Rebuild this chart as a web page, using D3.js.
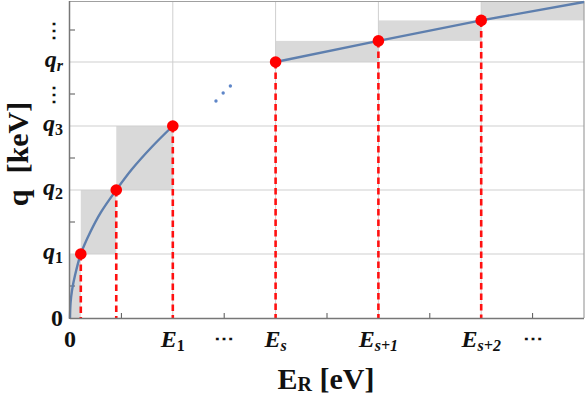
<!DOCTYPE html>
<html><head><meta charset="utf-8">
<script src="https://cdn.jsdelivr.net/npm/d3@7"></script>
<style>body{margin:0;background:#fff}svg{display:block}svg text{font-family:"Liberation Serif",serif !important}</style>
</head><body><svg id="c" width="586" height="396"></svg>
<script>
// ---- data ----
const xTicksMajor = [2, 4, 6, 8];
const xTickLabels = [["E","1"],["E","s"],["E","s+1"],["E","s+2"]];
const xDotsTicks = [3, 9];
const yTicksMajor = [2, 4, 6, 8];
const yTickLabels = [["q","1"],["q","2"],["q","3"],["q","r"]];
const yDotsTicks = [7, 9];
const minorX = [1, 3, 5, 7, 9];
const minorY = [1, 3, 5, 7, 9];
// lower curve segment
const curveLowE = [0, 0.01, 0.04, 0.1, 0.21, 0.4, 0.6, 0.9, 1.2, 1.6, 2.0];
const curveLowQ = [0, 0.45, 0.87, 1.35, 2.0, 2.7, 3.3, 4.0, 4.64, 5.36, 6.0];
// upper curve segment
const curveHighE = [4, 6, 8, 10];
const curveHighQ = [8, 8.66, 9.3, 9.875];
// marked points
const ptE = [0.21, 0.9, 2, 4, 6, 8];
const ptQ = [2, 4, 6, 8, 8.66, 9.3];
// shaded boxes
const boxE0 = [0, 0.21, 0.9, 4, 6, 8];
const boxE1 = [0.21, 0.9, 2, 6, 8, 10];
const boxQ0 = [0, 2, 4, 8, 8.66, 9.3];
const boxQ1 = [2, 4, 6, 8.66, 9.3, 9.875];
// ellipsis dots on the curve gap
const gapE = [2.84, 2.98, 3.12];
const gapQ = [6.78, 7.03, 7.25];

const svg = d3.select("#c");
const x = d3.scaleLinear().domain([0, 10]).range([70, 584]);
const y = d3.scaleLinear().domain([0, 9.875]).range([318, 2]);

svg.append("g").selectAll("rect").data(boxE0).join("rect")
  .attr("x", (d,i)=>x(boxE0[i])).attr("width",(d,i)=>x(boxE1[i])-x(boxE0[i]))
  .attr("y",(d,i)=>y(boxQ1[i])).attr("height",(d,i)=>y(boxQ0[i])-y(boxQ1[i]))
  .attr("fill","#d9d9d9");

svg.append("g").selectAll("line").data(xTicksMajor).join("line")
  .attr("x1",d=>x(d)).attr("x2",d=>x(d)).attr("y1",y(0)).attr("y2",2)
  .attr("stroke","#cfcfcf").attr("stroke-width",1);
svg.append("g").selectAll("line").data(yTicksMajor).join("line")
  .attr("y1",d=>y(d)).attr("y2",d=>y(d)).attr("x1",70).attr("x2",584)
  .attr("stroke","#cfcfcf").attr("stroke-width",1.2);

svg.append("line").attr("x1",70).attr("x2",584).attr("y1",1.5).attr("y2",1.5).attr("stroke","#a0a0a0").attr("stroke-width",1.2);
svg.append("line").attr("x1",584).attr("x2",584).attr("y1",1).attr("y2",318).attr("stroke","#a0a0a0").attr("stroke-width",1.2);

svg.append("g").selectAll("line").data(minorX).join("line")
  .attr("x1",d=>x(d)).attr("x2",d=>x(d)).attr("y1",y(0)).attr("y2",y(0)-5)
  .attr("stroke","#555").attr("stroke-width",1);
svg.append("g").selectAll("line").data(minorY).join("line")
  .attr("y1",d=>y(d)).attr("y2",d=>y(d)).attr("x1",70).attr("x2",75)
  .attr("stroke","#555").attr("stroke-width",1);

svg.append("g").selectAll("line").data(ptE).join("line")
  .attr("x1",d=>x(d)).attr("x2",d=>x(d)).attr("y1",(d,i)=>y(ptQ[i])).attr("y2",y(0))
  .attr("stroke","#ff1010").attr("stroke-width",2.6).attr("stroke-dasharray","6.5,4");

const line = d3.line().x(d=>x(d[0])).y(d=>y(d[1])).curve(d3.curveCatmullRom.alpha(0.5));
svg.append("path").datum(curveLowE.map((e,i)=>[e,curveLowQ[i]]))
  .attr("d",line).attr("fill","none").attr("stroke","#5e7fae").attr("stroke-width",2.4);
svg.append("path").datum(curveHighE.map((e,i)=>[e,curveHighQ[i]]))
  .attr("d",d3.line().x(d=>x(d[0])).y(d=>y(d[1]))).attr("fill","none").attr("stroke","#5e7fae").attr("stroke-width",2.4);
svg.append("g").selectAll("circle").data(gapE).join("circle")
  .attr("cx",d=>x(d)).attr("cy",(d,i)=>y(gapQ[i])).attr("r",1.7).attr("fill","#5e86c8");

svg.append("line").attr("x1",70).attr("x2",584).attr("y1",318.5).attr("y2",318.5).attr("stroke","#777").attr("stroke-width",1.5);
svg.append("line").attr("x1",69.5).attr("x2",69.5).attr("y1",1).attr("y2",319).attr("stroke","#777").attr("stroke-width",1.5);

svg.append("g").selectAll("circle").data(ptE).join("circle")
  .attr("cx",d=>x(d)).attr("cy",(d,i)=>y(ptQ[i])).attr("r",5.8).attr("fill","#ff0000");

function T(g){ return g.append("text").style("font-family","'Liberation Serif', serif").style("font-weight","bold").attr("fill","#111"); }

const xl = svg.append("g");
T(xl).attr("x",x(0)).attr("y",347).attr("text-anchor","middle").attr("font-size",24).text("0");
xTicksMajor.forEach((v,i)=>{
  const t = T(xl).attr("x",x(v)).attr("y",347).attr("text-anchor","middle").attr("font-size",24);
  t.append("tspan").style("font-style","italic").text(xTickLabels[i][0]);
  t.append("tspan").attr("font-size",16).attr("dy",4).style("font-style",xTickLabels[i][1]==="1"?"normal":"italic").text(xTickLabels[i][1]);
});
xDotsTicks.forEach(v=>{
  T(xl).attr("x",x(v)).attr("y",345).attr("text-anchor","middle").attr("font-size",20).text("\u22EF");
});
const yl = svg.append("g");
T(yl).attr("x",63).attr("y",y(0)+8).attr("text-anchor","end").attr("font-size",24).text("0");
yTicksMajor.forEach((v,i)=>{
  const t = T(yl).attr("x",63).attr("y",y(v)+5).attr("text-anchor","end").attr("font-size",24);
  t.append("tspan").style("font-style","italic").text(yTickLabels[i][0]);
  t.append("tspan").attr("font-size",16).attr("dy",4).style("font-style",yTickLabels[i][1]==="r"?"italic":"normal").text(yTickLabels[i][1]);
});
yDotsTicks.forEach(v=>{
  T(yl).attr("x",54).attr("y",y(v)+7).attr("text-anchor","middle").attr("font-size",20).text("\u22EE");
});

const xt = T(svg).attr("x",326).attr("y",389).attr("text-anchor","middle").attr("font-size",30);
xt.append("tspan").text("E");
xt.append("tspan").attr("font-size",20).attr("dy",2).text("R");
xt.append("tspan").attr("dy",-2).text(" [eV]");
const yt = T(svg).attr("transform","translate(28,154) rotate(-90)").attr("text-anchor","middle").attr("font-size",30);
yt.append("tspan").text("q");
yt.append("tspan").attr("dx",16).text("[keV]");
</script></body></html>
